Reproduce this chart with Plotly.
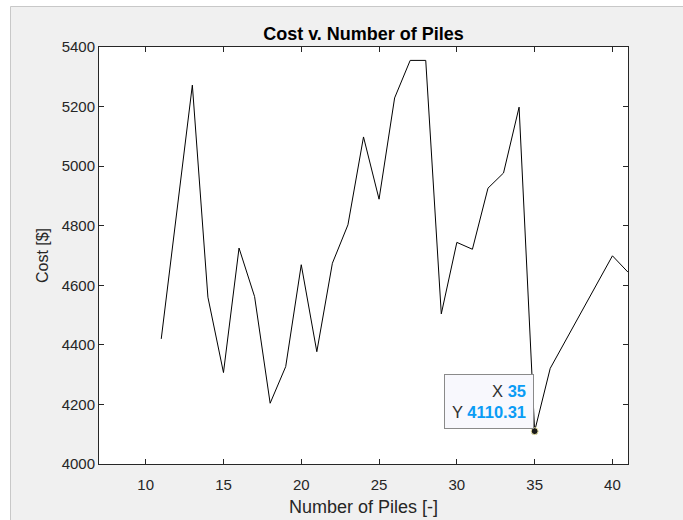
import plotly.graph_objects as go

# Data
num_piles = [11, 12, 13, 14, 15, 16, 17, 18, 19, 20, 21, 22, 23, 24, 25, 26, 27, 28,
             29, 30, 31, 32, 33, 34, 35, 36, 40, 41]
cost = [4420, 4845, 5272, 4560, 4307, 4725, 4562, 4204, 4327, 4669, 4377, 4674, 4803,
        5098, 4889, 5229, 5355, 5355, 4504, 4744, 4721, 4926, 4977, 5198, 4110.31, 4321,
        4699, 4644]
x_ticks = [10, 15, 20, 25, 30, 35, 40]
y_ticks = [4000, 4200, 4400, 4600, 4800, 5000, 5200, 5400]
tip_x = 35
tip_y = cost[num_piles.index(tip_x)]

W, H = 683, 520
L, R, T, B = 99, 55, 47, 56
pw, ph = W - L - R, H - T - B

FONT = "Liberation Sans, Arial, Helvetica, sans-serif"
AX = "#262626"

fig = go.Figure()
fig.add_trace(go.Scatter(x=num_piles, y=cost, mode="lines",
                         line=dict(color="#000000", width=1), showlegend=False,
                         hoverinfo="skip"))
fig.add_trace(go.Scatter(x=[tip_x], y=[tip_y], mode="markers",
                         marker=dict(color="#1a1a1a", size=7,
                                     line=dict(color="#f5f0b0", width=1)),
                         showlegend=False, hoverinfo="skip"))

fig.add_annotation(x=tip_x, y=tip_y, xref="x", yref="y",
                   text=("X <b><span style='color:#0a9cf5'>%d</span></b><br>"
                         "Y <b><span style='color:#0a9cf5'>%.2f</span></b>") % (tip_x, tip_y),
                   showarrow=False, xanchor="right", yanchor="bottom",
                   xshift=-1, yshift=2, align="right",
                   bgcolor="#f8f8fd", bordercolor="#8a8a8a", borderwidth=1, borderpad=7,
                   font=dict(family=FONT, size=16.5, color="#303030"))

def px_x(p):
    return (p - L) / pw

def px_y(p):
    return (H - B - p) / ph

shapes = [
    dict(type="rect", xref="paper", yref="paper", x0=px_x(0), x1=px_x(10.5),
         y0=px_y(H), y1=px_y(0), fillcolor="white", line=dict(width=0), layer="below"),
    dict(type="rect", xref="paper", yref="paper", x0=px_x(0), x1=px_x(W),
         y0=px_y(6.5), y1=px_y(0), fillcolor="white", line=dict(width=0), layer="below"),
    dict(type="line", xref="paper", yref="paper", x0=px_x(10.5), x1=px_x(10.5),
         y0=px_y(H), y1=px_y(6.5), line=dict(color="#c8c8c8", width=1)),
    dict(type="line", xref="paper", yref="paper", x0=px_x(10.5), x1=px_x(W),
         y0=px_y(6.5), y1=px_y(6.5), line=dict(color="#c8c8c8", width=1)),
]

fig.update_layout(
    width=W, height=H,
    margin=dict(l=L, r=R, t=T, b=B, autoexpand=False),
    paper_bgcolor="#f0f0f0", plot_bgcolor="white",
    font=dict(family=FONT, size=14, color=AX),
    title=dict(text="<b>Cost v. Number of Piles</b>", x=(L + pw / 2) / W, xref="container",
               xanchor="center", y=1 - 34 / H, yanchor="middle",
               font=dict(family=FONT, size=18, color="#000000")),
    shapes=shapes,
    xaxis=dict(range=[7, 41], tickvals=x_ticks, ticks="inside", ticklen=5,
               tickcolor=AX, showline=True, linecolor=AX, linewidth=1, mirror="ticks",
               showgrid=False, zeroline=False, tickfont=dict(size=15, color=AX),
               ticklabelstandoff=7,
               title=dict(text="Number of Piles [-]", font=dict(size=18, color=AX), standoff=8)),
    yaxis=dict(range=[4000, 5400], tickvals=y_ticks, ticks="inside", ticklen=5,
               tickcolor=AX, showline=True, linecolor=AX, linewidth=1, mirror="ticks",
               showgrid=False, zeroline=False, tickfont=dict(size=15, color=AX),
               title=dict(text="Cost [$]", font=dict(size=16, color=AX), standoff=9)),
)

fig.write_html("out.html")
